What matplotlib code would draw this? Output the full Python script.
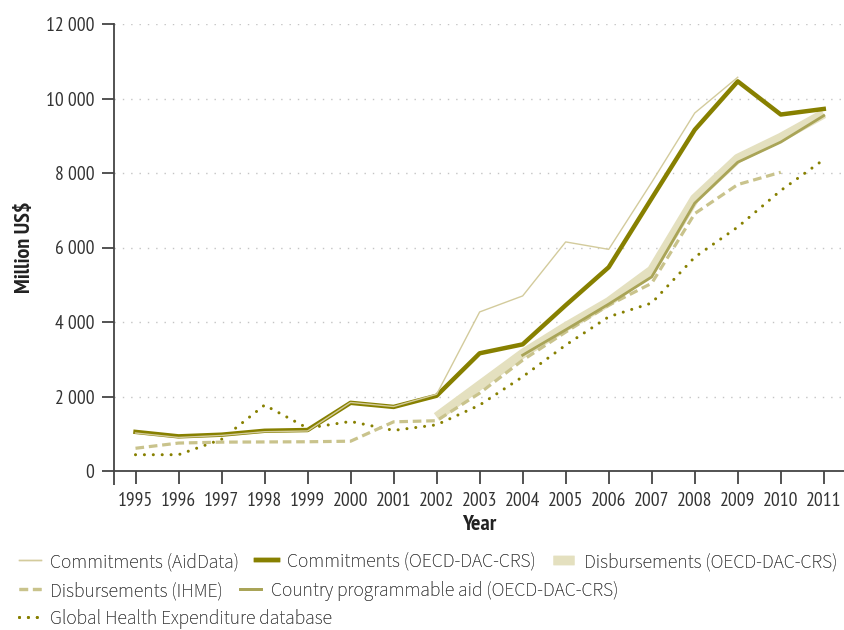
import matplotlib
matplotlib.use("Agg")
import matplotlib.pyplot as plt
from matplotlib.ticker import FuncFormatter
import numpy as np

plt.rcParams['font.family'] = ['PT Sans Narrow', 'Fira Sans Condensed',
                               'Barlow Semi Condensed', 'DejaVu Sans']
legend_family = ['Source Sans 3', 'Source Sans Pro', 'Fira Sans', 'DejaVu Sans']

years = list(range(1995, 2012))

commit_aiddata = [1020, 900, 955, 1055, 1075, 1840, 1730, 2060, 4270, 4700,
                  6150, 5950, 7750, 9610, 10570]
commit_oecd = [1050, 930, 975, 1080, 1100, 1830, 1720, 2020, 3160, 3400,
               4450, 5470, 7320, 9160, 10460, 9570, 9720]
disb_oecd_years = list(range(2002, 2012))
disb_oecd = [1450, 2300, 3150, 3870, 4540, 5390, 7310, 8390, 8950, 9590]
disb_ihme = [610, 750, 775, 780, 785, 800, 1320, 1350, 2090, 2975, 3730,
             4450, 5040, 6910, 7690, 8020]
cpa_years = list(range(2004, 2012))
cpa = [3110, 3790, 4480, 5210, 7190, 8290, 8830, 9540]
ghed = [437, 437, 850, 1770, 1150, 1330, 1090, 1240, 1770, 2530, 3380,
        4140, 4510, 5740, 6550, 7530, 8360]

labels = ["Commitments (AidData)", "Commitments (OECD-DAC-CRS)",
          "Disbursements (OECD-DAC-CRS)", "Disbursements (IHME)",
          "Country programmable aid (OECD-DAC-CRS)",
          "Global Health Expenditure database"]

fig = plt.figure(figsize=(8.44, 6.30), dpi=100)
ax = fig.add_axes([114 / 844, 1 - 471 / 630, 1 - 114 / 844, (471 - 24) / 630])

c_dark = "#878000"
c_aid = "#d3cb9c"
c_disb = "#e4e0bf"
c_ihme = "#c9c38c"
c_cpa = "#a9a457"

h_disb, = ax.plot(disb_oecd_years, disb_oecd, color=c_disb, lw=6.8,
                  solid_capstyle="butt", zorder=2)
h_ghed, = ax.plot(years, ghed, color=c_dark, lw=2.2, ls=(0, (0.01, 2.9)),
                  dash_capstyle="round", zorder=3)
h_ihme, = ax.plot(years[:len(disb_ihme)], disb_ihme, color=c_ihme, lw=2.3,
                  ls=(0, (2.7, 1.5)), zorder=3)
h_cpa, = ax.plot(cpa_years, cpa, color=c_cpa, lw=2.0, zorder=4)
h_oecd, = ax.plot(years, commit_oecd, color=c_dark, lw=3.2, zorder=5)
h_aid, = ax.plot(years[:len(commit_aiddata)], commit_aiddata, color=c_aid,
                 lw=1.0, zorder=6)

ax.set_xlim(1994.5, 2011.47)
ax.set_ylim(0, 12000)
ax.set_xticks(years)
ax.set_xticks([1994.5], minor=True)
ax.set_yticks(np.arange(0, 12001, 2000))
ax.yaxis.set_major_formatter(FuncFormatter(lambda v, p: f"{int(v):,}".replace(",", " ")))

for y in range(2000, 12001, 2000):
    ax.axhline(y, color="#c4c4c4", lw=1.0, ls=(0, (1, 5)), zorder=1)

for s in ["top", "right"]:
    ax.spines[s].set_visible(False)
for s in ["left", "bottom"]:
    ax.spines[s].set_color("#444444")
    ax.spines[s].set_linewidth(1.3)

ax.tick_params(axis="both", which="both", direction="out", length=9,
               width=1.3, color="#444444", labelcolor="#333333", labelsize=14)
ax.tick_params(axis="x", pad=6)
ax.tick_params(axis="y", pad=5)
ax.tick_params(axis="x", which="minor", length=10)

ax.set_xlabel("Year", fontsize=16, fontweight="bold", color="#222222", labelpad=4)
ax.set_ylabel("Million US$", fontsize=16, fontweight="bold", color="#222222", labelpad=9)

legend_kw = dict(frameon=False, prop={'family': legend_family, 'size': 14.1},
                 handlelength=1.1, handletextpad=0.5, columnspacing=0.85,
                 borderaxespad=0, borderpad=0, labelcolor="#444444",
                 loc="center left")
rows = [
    ([h_aid, h_oecd, h_disb], labels[0:3], 562),
    ([h_ihme, h_cpa], labels[3:5], 591),
    ([h_ghed], labels[5:6], 619),
]
for handles, labs, ypix in rows:
    leg = fig.legend(handles, labs, ncol=len(handles),
                     bbox_to_anchor=(19 / 844, 1 - ypix / 630), **legend_kw)
    fig.add_artist(leg)

fig.savefig("out.png", dpi=100)
